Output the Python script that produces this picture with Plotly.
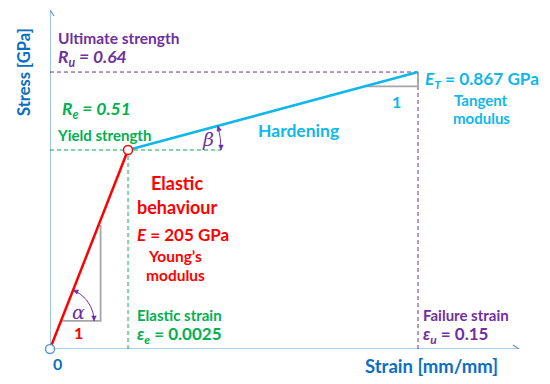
import numpy as np
import plotly.graph_objects as go

# ---------------- data ----------------
strain_values = [0.0, 0.0025, 0.15]        # origin, yield, failure  [mm/mm]
stress_values = [0.0, 0.51, 0.64]          # origin, yield, ultimate [GPa]
young_modulus = 205                        # GPa
tangent_modulus = 0.867                    # GPa

# schematic (not-to-scale) drawing scale of the diagram
strain_schematic = [0.0, 0.166, 0.783]
stress_schematic = [0.0, 0.587, 0.817]

def sx(v):
    return float(np.interp(v, strain_values, strain_schematic))

def sy(v):
    return float(np.interp(v, stress_values, stress_schematic))

# ---------------- layout helpers ----------------
OFF = 8                      # default page margin of the html body
W, H = 550 - OFF, 384 - OFF
PW, PH = 470, 339
ML, MT = 50 - OFF, 10 - OFF
MR, MB = W - ML - PW, H - MT - PH

def X(px):                   # page pixel -> plot fraction
    return (px - 50) / PW

def Y(py):
    return (349 - py) / PH

def to_px(x, y):
    return 50 + x * PW, 349 - y * PH

BLUE = "#0A6FC2"
AXIS = "#5B9BD5"
RED = "#FF0000"
GREEN = "#00B050"
PURPLE = "#7030A0"
CYAN = "#0FB7EA"
GREY = "#A6A6A6"
FONT = "Lato"

x0, xe, xu = [sx(v) for v in strain_values]
y0, ye, yu = [sy(v) for v in stress_values]

fig = go.Figure()

def line(xs, ys, color, width, dash="solid", fill=None):
    fig.add_trace(go.Scatter(x=xs, y=ys, mode="lines", cliponaxis=False,
                             line=dict(color=color, width=width, dash=dash),
                             fill=fill, fillcolor=color if fill else None,
                             hoverinfo="skip", showlegend=False))

# axes with open arrow heads
line([0, X(519)], [0, 0], AXIS, 1.2)
line([0, 0], [0, Y(10)], AXIS, 1.2)
line([X(513), X(519), X(513)], [Y(345), Y(349), Y(353)], AXIS, 1.2)
line([X(46), X(50), X(54)], [Y(16), Y(10), Y(16)], AXIS, 1.2)

# reference dashed lines
px_y, py_y = to_px(xe, ye)
beta_r = 93
DASH = "4px,3px"
line([0, X(px_y + beta_r)], [ye, ye], GREEN, 1, DASH)
line([xe, xe], [0, ye], GREEN, 1, DASH)
line([0, xu], [yu, yu], PURPLE, 1, DASH)
line([xu, xu], [0, yu], PURPLE, 1, DASH)

# slope triangles
t1, t2 = 0.141, 0.623
ax1, ay1 = x0 + t1 * (xe - x0), y0 + t1 * (ye - y0)
ax2, ay2 = x0 + t2 * (xe - x0), y0 + t2 * (ye - y0)
line([ax1, ax2 + X(52), ax2 + X(52)], [ay1, ay1, ay2], GREY, 1.8)
h1 = 0.817
bx1, by1 = xe + h1 * (xu - xe), ye + h1 * (yu - ye)
line([bx1, xu, xu], [by1, by1, yu], GREY, 1.8)

# material curve
line([x0, xe], [y0, ye], RED, 2.5)
line([xe, xu], [ye, yu], CYAN, 2.5)

# points
fig.add_trace(go.Scatter(x=[x0], y=[y0], mode="markers", cliponaxis=False,
                         marker=dict(size=9, color="white", line=dict(color=AXIS, width=1.5)),
                         hoverinfo="skip", showlegend=False))
fig.add_trace(go.Scatter(x=[xe], y=[ye], mode="markers", cliponaxis=False,
                         marker=dict(size=9, color="white", line=dict(color=RED, width=1.5)),
                         hoverinfo="skip", showlegend=False))

# angle arcs with small arrow heads at both ends
def arc(cx_px, cy_px, r, a_from, a_to):
    ang = np.linspace(np.radians(a_from), np.radians(a_to), 30)
    xs = [X(cx_px + r * np.cos(a)) for a in ang]
    ys = [Y(cy_px - r * np.sin(a)) for a in ang]
    line(xs, ys, PURPLE, 1)
    for a, sgn in ((ang[0], -1), (ang[-1], 1)):
        hx, hy = cx_px + r * np.cos(a), cy_px - r * np.sin(a)
        tx, ty = -np.sin(a) * sgn, -np.cos(a) * sgn
        nx, ny = -ty, tx
        bx, by = hx - tx * 5, hy - ty * 5
        line([X(hx), X(bx + nx * 2.3), X(bx - nx * 2.3), X(hx)],
             [Y(hy), Y(by + ny * 2.3), Y(by - ny * 2.3), Y(hy)], PURPLE, 0.5, fill="toself")

apx, apy = to_px(ax1, ay1)
alpha_ang = np.degrees(np.arctan2((ye - y0) * PH, (xe - x0) * PW))
arc(apx, apy, 33, 0, alpha_ang)
beta_ang = np.degrees(np.arctan2((yu - ye) * PH, (xu - xe) * PW))
arc(px_y, py_y, beta_r, 0, beta_ang)

def txt(s, px, py, color, size, anchor="left", angle=0, family=FONT, weight="bold"):
    fig.add_annotation(x=X(px), y=Y(py), xref="paper", yref="paper", text=s,
                       showarrow=False, xanchor=anchor, yanchor="middle",
                       textangle=angle, borderpad=0,
                       font=dict(family=family, size=size, color=color, weight=weight))

txt("Stress [GPa]", 24, 72, BLUE, 16.5, "center", -90)
txt("Strain [mm/mm]", 431, 366, BLUE, 18.5, "center")
txt("0", 57, 363, BLUE, 16, "center")

txt("Ultimate strength", 57, 38, PURPLE, 15.5)
txt(f"<i>R<sub>u</sub> = {stress_values[2]:.2f}</i>", 57, 58, PURPLE, 17.5)
txt(f"<i>R<sub>e</sub> = {stress_values[1]:.2f}</i>", 61, 110, GREEN, 17.5)
txt("Yield strength", 56, 135, GREEN, 15)

txt("Hardening", 298, 130, CYAN, 17.5, "center")
txt(f"<i>E<sub>T</sub></i> = {tangent_modulus} GPa", 424, 80, CYAN, 17.2)
txt("1", 396, 101, CYAN, 16, "center")
txt("Tangent", 481, 100, CYAN, 15, "center")
txt("modulus", 481, 118, CYAN, 15, "center")

txt("Elastic", 177, 183, RED, 18, "center")
txt("behaviour", 177, 207, RED, 18, "center")
txt(f"<i>E</i> = {young_modulus} GPa", 136, 235, RED, 17)
txt("Young\u2019s", 175, 256, RED, 15.5, "center")
txt("modulus", 175, 275, RED, 15.5, "center")
txt("1", 78, 332, RED, 16, "center")

txt("Elastic strain", 136, 315, GREEN, 15)
txt(f"<i>\u03b5<sub>e</sub></i> = {strain_values[1]}", 136, 335, GREEN, 17)
txt("Failure strain", 422, 315, PURPLE, 15)
txt(f"<i>\u03b5<sub>u</sub></i> = {strain_values[2]}", 422, 335, PURPLE, 17)

txt("<i>\u03b1</i>", 78, 312, PURPLE, 19, "center", family="DejaVu Serif", weight="normal")
txt("<i>\u03b2</i>", 208, 139, PURPLE, 19, "center", family="DejaVu Serif", weight="normal")

fig.update_layout(
    width=W, height=H, margin=dict(l=ML, r=MR, t=MT, b=MB, autoexpand=False),
    plot_bgcolor="white", paper_bgcolor="white",
    xaxis=dict(range=[0, 1], visible=False, fixedrange=True),
    yaxis=dict(range=[0, 1], visible=False, fixedrange=True),
    showlegend=False,
)

fig.write_html("out.html")
